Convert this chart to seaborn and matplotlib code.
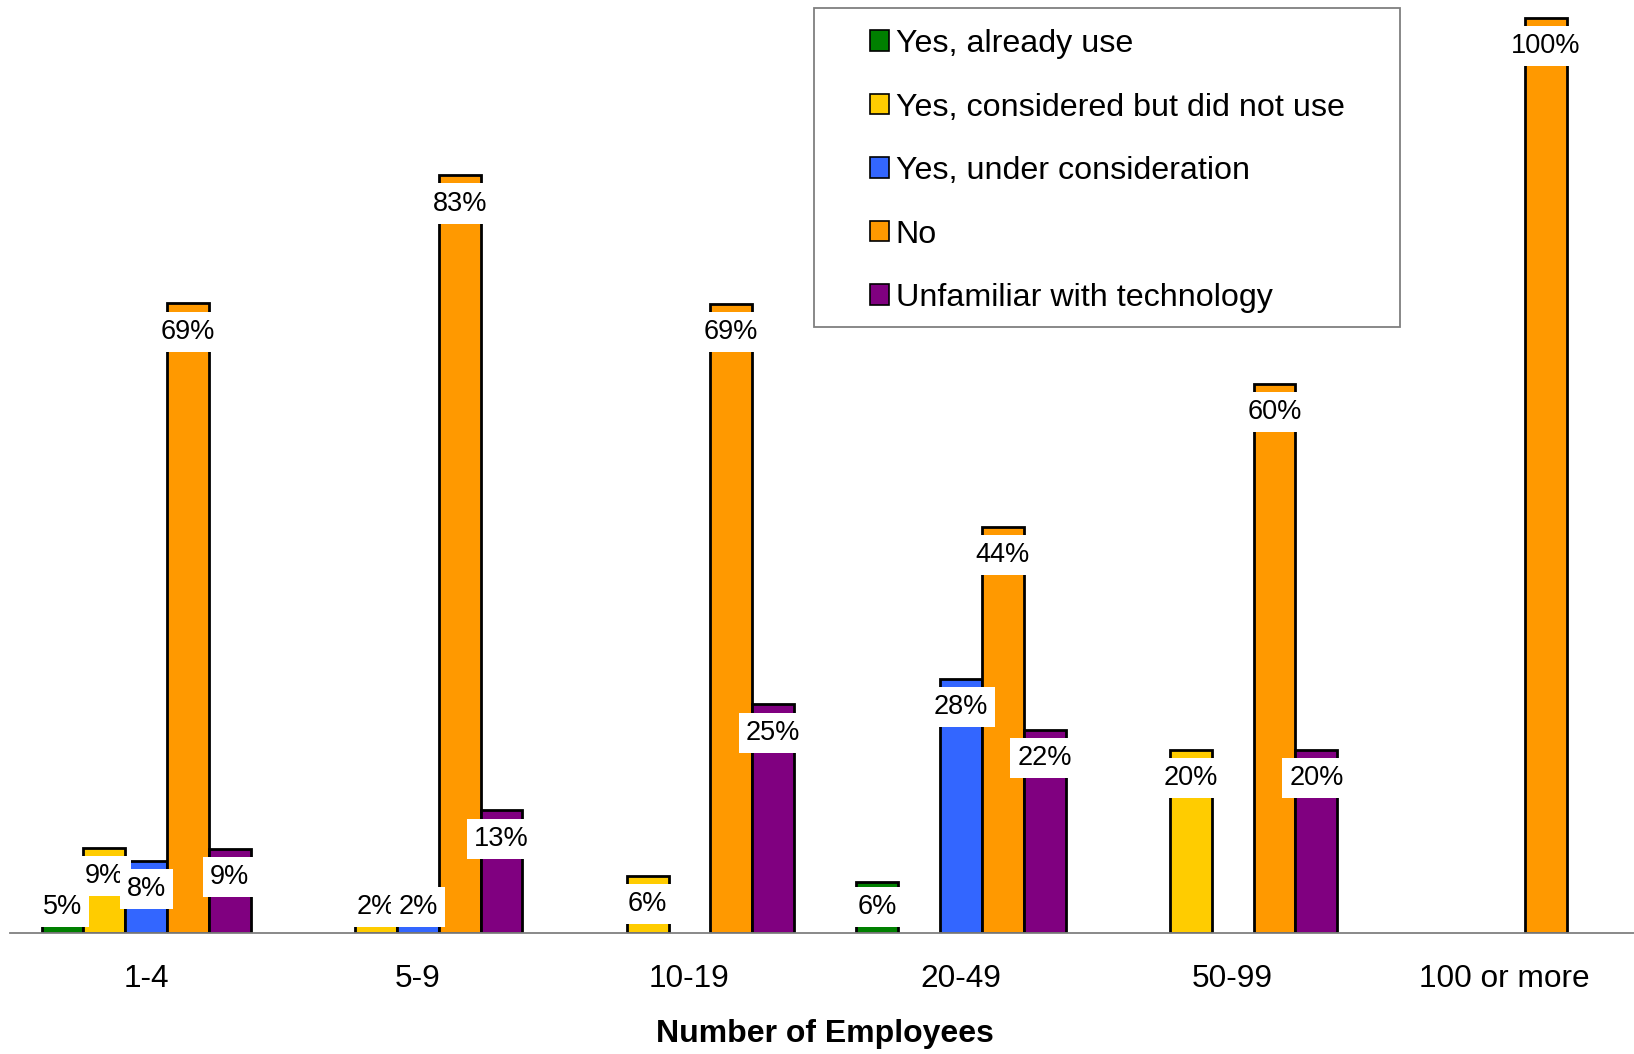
import matplotlib
matplotlib.use("Agg")
import matplotlib.pyplot as plt
from matplotlib.patches import Patch, Rectangle
import pandas as pd
import seaborn as sns

sns.set_style("white")
plt.rcParams["font.family"] = ["Liberation Sans", "DejaVu Sans"]
plt.rcParams["text.color"] = "black"
plt.rcParams["axes.labelcolor"] = "black"
plt.rcParams["xtick.labelcolor"] = "black"

SIZES = ["1-4", "5-9", "10-19", "20-49", "50-99", "100 or more"]
ANSWERS = ["Yes, already use", "Yes, considered but did not use",
           "Yes, under consideration", "No", "Unfamiliar with technology"]
COLORS = ["#008000", "#FFCC00", "#3366FF", "#FF9900", "#800080"]

# percent of firms in each size band
already_use = [4.7, None, None, 5.6, None, None]
considered = [9.3, 1.9, 6.25, None, 20, None]
under_consideration = [7.9, 1.9, None, 27.8, None, None]
no = [68.8, 82.8, 68.75, 44.4, 60, 100]
unfamiliar = [9.2, 13.4, 25, 22.2, 20, None]

series = [already_use, considered, under_consideration, no, unfamiliar]
rows = []
for answer, vals in zip(ANSWERS, series):
    for size, v in zip(SIZES, vals):
        if v is not None:
            rows.append({"size": size, "answer": answer, "pct": v})
df = pd.DataFrame(rows)

W, H = 1634, 1054
fig = plt.figure(figsize=(W / 100, H / 100), dpi=100)
base_px, top_px = 933, 10
px_per_pct = (base_px - 17.7) / 100
ax = fig.add_axes([10.4 / W, (H - base_px) / H, 1629.7 / W, (base_px - top_px) / H])

sns.barplot(data=df, x="size", y="pct", hue="answer", order=SIZES,
            hue_order=ANSWERS, palette=COLORS, width=0.77, gap=0,
            edgecolor="black", linewidth=2, saturation=1, legend=False, ax=ax)

ax.set_xlim(-0.5, 5.5)
ax.set_ylim(0, (base_px - top_px) / px_per_pct)

# value labels with white boxes just inside the bar tops
for container in ax.containers:
    for bar in container:
        h = bar.get_height()
        if not h or h != h:
            continue
        x = bar.get_x() + bar.get_width() / 2
        y = max(h - 3.1, 2.8)
        ax.text(x, y, f"{round(h)}%", ha="center", va="center", fontsize=19.5,
                bbox=dict(facecolor="white", edgecolor="none", pad=5), zorder=5)

for side in ["top", "right", "left"]:
    ax.spines[side].set_visible(False)
ax.spines["bottom"].set_color("#808080")
ax.spines["bottom"].set_linewidth(1.3)
ax.set_yticks([])
ax.set_ylabel("")
ax.set_xticks(range(len(SIZES)))
ax.set_xticklabels(SIZES, fontsize=22.8)
ax.set_xticks([i - 0.5 for i in range(len(SIZES) + 1)], minor=True)
ax.tick_params(axis="x", which="major", length=0, pad=22)
ax.tick_params(axis="x", which="minor", length=10, width=1.3, color="#808080",
               direction="out")
ax.set_xlabel("Number of Employees", fontsize=23, fontweight="bold", labelpad=18)

handles = [Patch(facecolor=c, edgecolor="black", linewidth=1.2) for c in COLORS]
fig.legend(handles, ANSWERS, loc="upper left",
           bbox_to_anchor=(870 / W, 1 - 29 / H), frameon=False, fontsize=23.2,
           handlelength=0.6, handleheight=0.6, handletextpad=0.2,
           labelspacing=1.04, borderpad=0, borderaxespad=0)
fig.patches.append(Rectangle((814 / W, 1 - 327 / H), (1400 - 814) / W, (327 - 8) / H,
                             transform=fig.transFigure, fill=False,
                             edgecolor="#7f7f7f", linewidth=1.3))

fig.savefig("out.png", dpi=100)
